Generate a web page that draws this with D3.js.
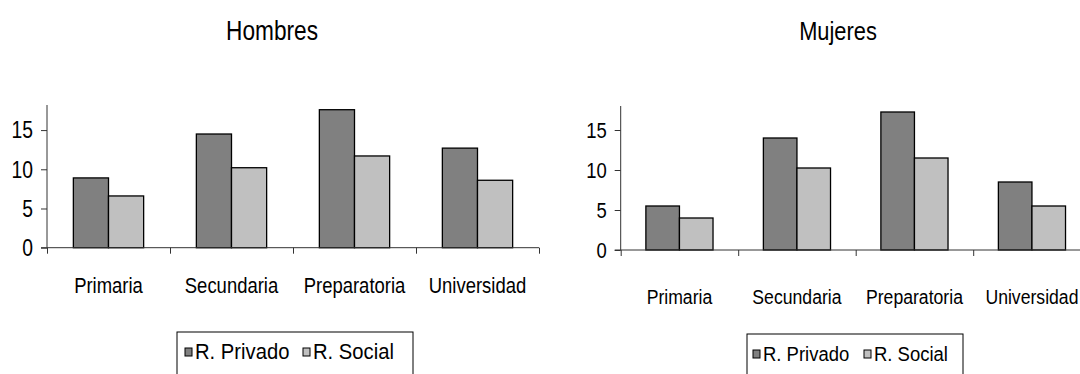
<!DOCTYPE html>
<html lang="es">
<head>
<meta charset="utf-8">
<script src="https://d3js.org/d3.v7.min.js"></script>
<style>
  body { margin: 0; background: #fff; }
  svg { display: block; }
  text { font-family: "Liberation Sans", Arial, sans-serif; fill: #000; }
</style>
</head>
<body>
<div id="chart"></div>
<script>
// data
const categories = ["Primaria", "Secundaria", "Preparatoria", "Universidad"];
const seriesNames = ["R. Privado", "R. Social"];
const hombresPrivado = [8.9, 14.5, 17.6, 12.7];
const hombresSocial = [6.6, 10.2, 11.7, 8.6];
const mujeresPrivado = [5.5, 14.0, 17.25, 8.5];
const mujeresSocial = [4.0, 10.25, 11.5, 5.5];
const yTicks = [0, 5, 10, 15];
const seriesColors = ["#808080", "#c0c0c0"];

const width = 1080, height = 374;

const svg = d3.select("#chart").append("svg")
    .attr("width", width)
    .attr("height", height);

// squeezed text, the original font is narrow and tall
function label(g, x, y, str, size, sx, anchor) {
  return g.append("text")
      .attr("transform", `translate(${x},${y}) scale(${sx},1)`)
      .attr("text-anchor", anchor || "middle")
      .style("font-size", size + "px")
      .text(str);
}

function panel(cfg) {
  const g = svg.append("g");

  const y = d3.scaleLinear().domain([0, cfg.yMax]).range([cfg.y0, cfg.yTop]);
  const x = d3.scaleBand().domain(categories).range([cfg.x0, cfg.x1]);
  const xSub = d3.scaleBand().domain(seriesNames).range([0, x.bandwidth()])
      .paddingInner(0).paddingOuter(0.75);
  const xEdge = d3.scaleLinear().domain([0, categories.length]).range([cfg.x0, cfg.x1]);

  const rows = categories.map((c, i) => ({cat: c, values: [cfg.a[i], cfg.b[i]]}));

  // bars
  g.selectAll("g.cat")
    .data(rows)
    .join("g")
      .attr("class", "cat")
      .attr("transform", d => `translate(${x(d.cat)},0)`)
    .selectAll("rect")
    .data(d => d.values.map((v, j) => ({name: seriesNames[j], v: v, j: j})))
    .join("rect")
      .attr("x", d => xSub(d.name))
      .attr("y", d => y(d.v))
      .attr("width", xSub.bandwidth())
      .attr("height", d => cfg.y0 - y(d.v))
      .attr("fill", d => seriesColors[d.j])
      .attr("stroke", "#000")
      .attr("stroke-width", 1.3);

  // y axis
  const yAxis = g.append("g")
      .attr("transform", `translate(${cfg.x0},0)`)
      .call(d3.axisLeft(y).tickValues(yTicks).tickSize(6).tickFormat(""));
  yAxis.select(".domain").attr("d", `M0,${cfg.y0}V${cfg.yTop}`);
  yAxis.selectAll("line, path").attr("stroke", "#333");

  // x axis with ticks between categories
  const xAxis = g.append("g")
      .attr("transform", `translate(0,${cfg.y0})`)
      .call(d3.axisBottom(xEdge).tickValues(d3.range(categories.length + 1)).tickSize(6).tickFormat(""));
  xAxis.select(".domain").attr("d", `M${cfg.x0 - 6},0H${cfg.x1}`);
  xAxis.selectAll("line, path").attr("stroke", "#333");

  yTicks.forEach(t => label(g, cfg.x0 - 14, y(t) + cfg.tickSize * 0.36, t, cfg.tickSize, cfg.sx, "end"));
  categories.forEach(c => label(g, x(c) + x.bandwidth() / 2, cfg.catY, c, cfg.catSize, cfg.sx));

  label(g, cfg.titleX, 40, cfg.title, cfg.titleSize, cfg.sx);

  // legend
  const lg = g.append("g");
  lg.append("rect")
      .attr("x", cfg.legX).attr("y", cfg.legY)
      .attr("width", cfg.legW).attr("height", 60)
      .attr("fill", "#fff").attr("stroke", "#000").attr("stroke-width", 1);
  cfg.legItems.forEach((px, j) => {
    lg.append("rect")
        .attr("x", px).attr("y", cfg.legY + 16)
        .attr("width", 7).attr("height", 8)
        .attr("fill", seriesColors[j]).attr("stroke", "#000").attr("stroke-width", 1);
    label(lg, px + 10, cfg.legY + 27, seriesNames[j], cfg.legSize, cfg.legSx, "start");
  });
}

panel({
  title: "Hombres", titleX: 272, titleSize: 27,
  a: hombresPrivado, b: hombresSocial,
  x0: 47, x1: 539, y0: 247.7, yTop: 105, yMax: 18.2,
  tickSize: 23, catSize: 22, catY: 293, sx: 0.84,
  legX: 177, legY: 332, legW: 236, legSize: 22, legSx: 0.92, legItems: [185, 303]
});

panel({
  title: "Mujeres", titleX: 838, titleSize: 26,
  a: mujeresPrivado, b: mujeresSocial,
  x0: 620.7, x1: 1090.7, y0: 250, yTop: 106, yMax: 18,
  tickSize: 22, catSize: 21, catY: 304, sx: 0.84,
  legX: 747, legY: 334, legW: 216, legSize: 21, legSx: 0.88, legItems: [753, 864]
});
</script>
</body>
</html>
